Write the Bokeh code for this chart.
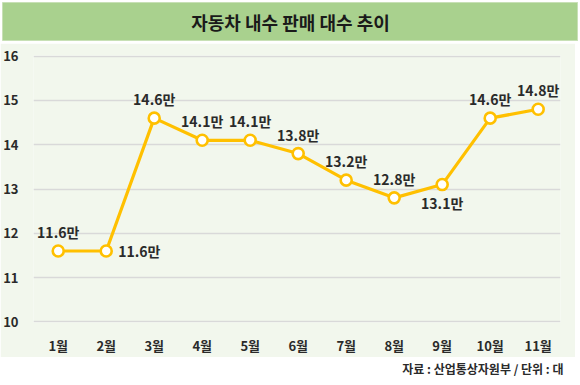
from bokeh.plotting import figure
from bokeh.layouts import column, row
from bokeh.models import ColumnDataSource, Range1d, FixedTicker
from bokeh.core.properties import value
from bokeh.embed import file_html
from bokeh.resources import INLINE

# ---- data ----
title_text = "자동차 내수 판매 대수 추이"
source_text = "자료 : 산업통상자원부 / 단위 : 대"
months = [1, 2, 3, 4, 5, 6, 7, 8, 9, 10, 11]
month_labels = ["1월", "2월", "3월", "4월", "5월", "6월", "7월", "8월", "9월", "10월", "11월"]
sales = [11.6, 11.6, 14.6, 14.1, 14.1, 13.8, 13.2, 12.8, 13.1, 14.6, 14.8]
value_labels = ["11.6만", "11.6만", "14.6만", "14.1만", "14.1만", "13.8만", "13.2만", "12.8만", "13.1만", "14.6만", "14.8만"]
label_side = ["above", "right", "above", "above", "above", "above", "above", "above", "below", "above", "above"]
y_ticks = [10, 11, 12, 13, 14, 15, 16]

FONT = value("Noto Sans CJK KR")
ORANGE = "#ffc000"
LIGHT = "#f2f7ed"
BANNER = "#a9d18e"
TXT = "#2a2a2a"

# ---- banner ----
banner = figure(width=578, height=43, output_backend="svg", toolbar_location=None,
                x_axis_location=None, y_axis_location=None,
                x_range=Range1d(0, 1), y_range=Range1d(0, 1),
                min_border_left=2, min_border_right=0, min_border_top=2, min_border_bottom=3,
                background_fill_color=BANNER, border_fill_color="white",
                outline_line_color="#c8e0b6", outline_line_width=1)
banner.grid.visible = False
banner.text(x=[0.5], y=[0.5], text=[title_text], text_font=FONT, text_font_size="18px",
            text_font_style="bold", text_color="#1a1a1a", text_align="center", text_baseline="middle")

# ---- main chart ----
offs = {"above": (0, -19, "center"),
        "right": (12, 0, "left"),
        "below": (0, 18, "center")}
src = ColumnDataSource(dict(
    x=months, y=sales, t=value_labels,
    dx=[offs[s][0] for s in label_side],
    dy=[offs[s][1] for s in label_side],
    al=[offs[s][2] for s in label_side],
))

p = figure(width=575, height=314, output_backend="svg", toolbar_location=None,
           x_range=Range1d(0.485, 11.465), y_range=Range1d(9.985, 16.015),
           min_border_left=33, min_border_right=15, min_border_top=12, min_border_bottom=31,
           background_fill_color=LIGHT, border_fill_color=LIGHT, outline_line_color=None)

p.xgrid.visible = False
p.ygrid.grid_line_color = "#d9d9d9"
p.ygrid.grid_line_width = 1.3
p.yaxis.ticker = FixedTicker(ticks=y_ticks)
p.xaxis.ticker = FixedTicker(ticks=months)
p.xaxis.major_label_overrides = {m: l for m, l in zip(months, month_labels)}
for ax in (p.xaxis, p.yaxis):
    ax.axis_line_color = None
    ax.major_tick_line_color = None
    ax.minor_tick_line_color = None
    ax.major_label_text_font = "Noto Sans CJK KR"
    ax.major_label_text_font_size = "13px"
    ax.major_label_text_font_style = "bold"
    ax.major_label_text_color = TXT
p.xaxis.major_label_standoff = 7
p.yaxis.major_label_standoff = 9

p.line("x", "y", source=src, line_color=ORANGE, line_width=3.2)
p.scatter("x", "y", source=src, size=11, marker="circle", fill_color="white",
          line_color=ORANGE, line_width=2.6)
p.text("x", "y", text="t", source=src, x_offset="dx", y_offset="dy", text_align="al",
       text_baseline="middle", text_font=FONT, text_font_size="14px",
       text_font_style="bold", text_color=TXT)

# ---- footer ----
foot = figure(width=578, height=26, output_backend="svg", toolbar_location=None,
              x_axis_location=None, y_axis_location=None,
              x_range=Range1d(0, 1), y_range=Range1d(0, 1),
              min_border_left=0, min_border_right=0, min_border_top=0, min_border_bottom=0,
              background_fill_color="white", border_fill_color="white", outline_line_color=None)
foot.grid.visible = False
foot.text(x=[1], y=[0.58], text=[source_text], x_offset=-15, text_font=FONT, text_font_size="12px",
          text_font_style="bold", text_color=TXT, text_align="right", text_baseline="middle")

layout = column(row(banner), row(p), row(foot), spacing=0)
open("out.html", "w").write(file_html(layout, INLINE))
